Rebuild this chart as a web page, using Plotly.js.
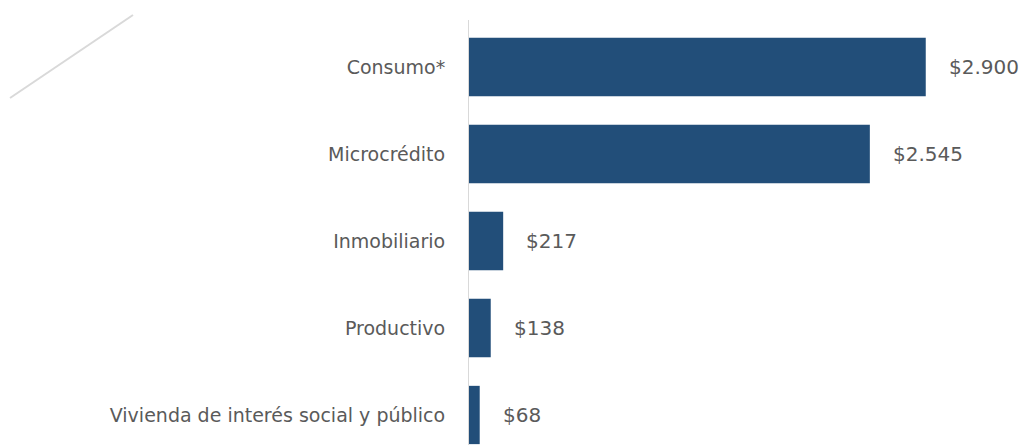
<!DOCTYPE html>
<html>
<head>
<meta charset="utf-8">
<script src="https://cdn.plot.ly/plotly-3.0.1.min.js"></script>
<style>html,body{margin:0;padding:0;background:#fff;}#chart{width:1036px;height:445px;}</style>
</head>
<body>
<div id="chart"></div>
<script>
// Categories listed bottom to top
const categories = ["Vivienda de interés social y público", "Productivo", "Inmobiliario", "Microcrédito", "Consumo*"];
const values = [68, 138, 217, 2545, 2900];
const valueLabels = ["$68", "$138", "$217", "$2.545", "$2.900"];

const barColor = "#224e79";
const textColor = "#5a5a5a";
const fontFamily = "DejaVu Sans, sans-serif";

const trace = {
  type: "bar",
  orientation: "h",
  y: categories,
  x: values,
  marker: {color: barColor},
  hoverinfo: "none"
};

const annotations = values.map((v, i) => ({
  x: v, y: categories[i], xref: "x", yref: "y",
  text: valueLabels[i], showarrow: false,
  xanchor: "left", xshift: 21,
  font: {family: fontFamily, size: 20, color: textColor}
}));

const layout = {
  width: 1036, height: 445,
  margin: {l: 469, r: 0, t: 20, b: 0},
  paper_bgcolor: "#ffffff",
  plot_bgcolor: "#ffffff",
  bargap: 0.33,
  showlegend: false,
  xaxis: {range: [0, 3600], visible: false, fixedrange: true},
  yaxis: {
    type: "category",
    range: [-0.345, 4.54],
    showline: true, linecolor: "#d9d9d9", linewidth: 1,
    showgrid: false, zeroline: false, ticks: "",
    ticklabelstandoff: 19,
    tickfont: {family: fontFamily, size: 19, color: textColor},
    fixedrange: true
  },
  annotations: annotations,
  shapes: [{
    type: "line", xref: "paper", yref: "paper",
    x0: -0.8095, y0: 0.8165, x1: -0.5926, y1: 1.0118,
    line: {color: "#d9d9d9", width: 2}
  }]
};

Plotly.newPlot("chart", [trace], layout, {displayModeBar: false, staticPlot: true});
</script>
</body>
</html>
